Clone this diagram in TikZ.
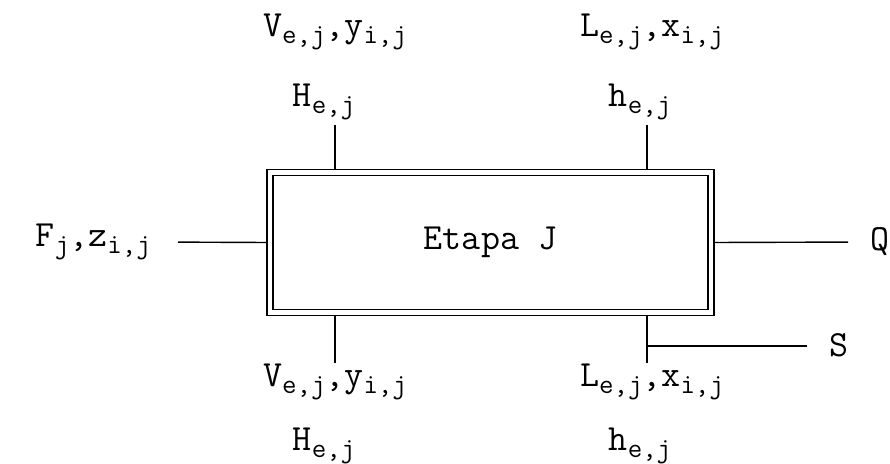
\documentclass[tikz,border=0pt]{standalone}
\usetikzlibrary{positioning,calc}

% subindices of the old typewriter
\newcommand{\idx}[1]{\raisebox{-0.4ex}{\fontsize{16}{16}\selectfont #1}}

\begin{document}
\begin{tikzpicture}[
      etapabox/.style={
        draw,
        double,
        double distance=2.6pt,
        line width=0.7pt,
        outer sep=2pt,
        minimum width=8.82cm,
        minimum height=2.8cm
      },
      lbl/.style={
        font=\ttfamily\fontsize{21}{24}\selectfont,
        inner sep=1pt
      },
      flow/.style={line width=0.8pt}
    ]
    \useasboundingbox (0,0) rectangle (17.8,9.26);

    % Stage
    \node[etapabox, lbl] (etapa) at (9.81,4.41) {Etapa J};

    % Free ends of the vertical streams
    \coordinate (vin)  at (6.70,6.76);  % vapour, top
    \coordinate (lin)  at (12.94,6.76); % liquid, top
    \coordinate (vout) at (6.70,2.00);  % vapour, bottom
    \coordinate (lout) at (12.94,2.00); % liquid, bottom
    \coordinate (sbr)  at (12.94,2.34); % side draw
    \coordinate (send) at (16.14,2.34);

    % Streams
    \draw[flow] (vin) -- (vin |- etapa.north);
    \draw[flow] (lin) -- (lin |- etapa.north);
    \draw[flow] (vout) -- (vout |- etapa.south);
    \draw[flow] (lout) -- (lout |- etapa.south);
    \draw[flow] (sbr) -- (send);

    % Labels
    \node[lbl] (vtop) at (6.70,8.62) {V\idx{e,j},y\idx{i,j}};
    \node[lbl] (ltop) at (13.04,8.62) {L\idx{e,j},x\idx{i,j}};
    \node[lbl] (htop) at (6.48,7.22) {H\idx{e,j}};
    \node[lbl] (hltop) at (12.80,7.22) {h\idx{e,j}};

    \node[lbl] (vbot) at (6.70,1.62) {V\idx{e,j},y\idx{i,j}};
    \node[lbl] (lbot) at (13.04,1.62) {L\idx{e,j},x\idx{i,j}};
    \node[lbl] (hbot) at (6.48,0.34) {H\idx{e,j}};
    \node[lbl] (hlbot) at (12.80,0.34) {h\idx{e,j}};

    \node[lbl, anchor=east] (feed) at (3.06,4.42) {F\idx{j},z\idx{i,j}};
    \node[lbl, anchor=west] (heat) at (17.36,4.42) {Q};
    \node[lbl, anchor=west] (side) at (16.54,2.36) {S};

    \draw[flow, shorten <=0.5cm] (feed.east) -- (etapa.west);
    \draw[flow, shorten >=0.4cm] (etapa.east) -- (heat.west);

    \end{tikzpicture}
\end{document}
